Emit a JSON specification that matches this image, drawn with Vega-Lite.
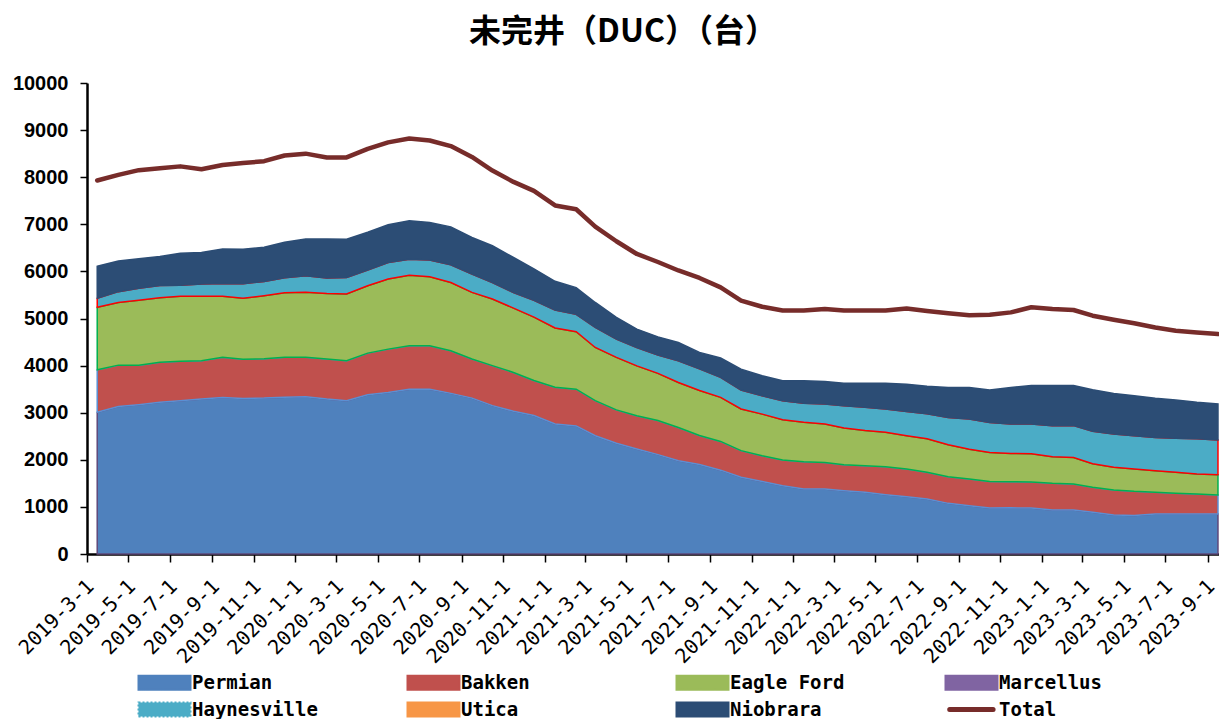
{
  "$schema": "https://vega.github.io/schema/vega-lite/v6.json",
  "width": 1132,
  "height": 471,
  "autosize": {"type": "none"},
  "padding": {"left": 87, "top": 83, "right": 0, "bottom": 165},
  "background": "white",
  "title": {"text": "未完井（DUC）（台）", "font": "Noto Sans CJK SC", "fontSize": 32, "fontWeight": "bold", "color": "#000000", "anchor": "middle", "dx": -30, "offset": 24},
  "config": {"view": {"stroke": null}, "axis": {"grid": false}},
  "data": {"values": [
    {"date": "2019-03-01", "Permian": 3010, "Bakken": 900, "Eagle Ford": 1330, "Haynesville": 190, "Niobrara": 680, "Total": 7930},
    {"date": "2019-04-01", "Permian": 3130, "Bakken": 880, "Eagle Ford": 1330, "Haynesville": 230, "Niobrara": 650, "Total": 8050},
    {"date": "2019-05-01", "Permian": 3170, "Bakken": 840, "Eagle Ford": 1380, "Haynesville": 250, "Niobrara": 630, "Total": 8150},
    {"date": "2019-06-01", "Permian": 3220, "Bakken": 850, "Eagle Ford": 1370, "Haynesville": 260, "Niobrara": 615, "Total": 8190},
    {"date": "2019-07-01", "Permian": 3255, "Bakken": 835, "Eagle Ford": 1380, "Haynesville": 235, "Niobrara": 680, "Total": 8230},
    {"date": "2019-08-01", "Permian": 3290, "Bakken": 815, "Eagle Ford": 1365, "Haynesville": 265, "Niobrara": 665, "Total": 8170},
    {"date": "2019-09-01", "Permian": 3325, "Bakken": 850, "Eagle Ford": 1295, "Haynesville": 275, "Niobrara": 730, "Total": 8260},
    {"date": "2019-10-01", "Permian": 3300, "Bakken": 835, "Eagle Ford": 1295, "Haynesville": 310, "Niobrara": 730, "Total": 8300},
    {"date": "2019-11-01", "Permian": 3310, "Bakken": 835, "Eagle Ford": 1340, "Haynesville": 300, "Niobrara": 730, "Total": 8340},
    {"date": "2019-12-01", "Permian": 3330, "Bakken": 845, "Eagle Ford": 1370, "Haynesville": 320, "Niobrara": 755, "Total": 8460},
    {"date": "2020-01-01", "Permian": 3340, "Bakken": 835, "Eagle Ford": 1380, "Haynesville": 355, "Niobrara": 780, "Total": 8500},
    {"date": "2020-02-01", "Permian": 3290, "Bakken": 850, "Eagle Ford": 1390, "Haynesville": 330, "Niobrara": 830, "Total": 8420},
    {"date": "2020-03-01", "Permian": 3255, "Bakken": 850, "Eagle Ford": 1415, "Haynesville": 350, "Niobrara": 815, "Total": 8420},
    {"date": "2020-04-01", "Permian": 3380, "Bakken": 885, "Eagle Ford": 1430, "Haynesville": 335, "Niobrara": 800, "Total": 8600},
    {"date": "2020-05-01", "Permian": 3430, "Bakken": 920, "Eagle Ford": 1490, "Haynesville": 350, "Niobrara": 800, "Total": 8740},
    {"date": "2020-06-01", "Permian": 3500, "Bakken": 920, "Eagle Ford": 1500, "Haynesville": 340, "Niobrara": 815, "Total": 8820},
    {"date": "2020-07-01", "Permian": 3500, "Bakken": 920, "Eagle Ford": 1465, "Haynesville": 355, "Niobrara": 800, "Total": 8780},
    {"date": "2020-08-01", "Permian": 3410, "Bakken": 905, "Eagle Ford": 1450, "Haynesville": 375, "Niobrara": 805, "Total": 8660},
    {"date": "2020-09-01", "Permian": 3310, "Bakken": 830, "Eagle Ford": 1415, "Haynesville": 390, "Niobrara": 775, "Total": 8430},
    {"date": "2020-10-01", "Permian": 3150, "Bakken": 850, "Eagle Ford": 1415, "Haynesville": 350, "Niobrara": 780, "Total": 8140},
    {"date": "2020-11-01", "Permian": 3030, "Bakken": 825, "Eagle Ford": 1365, "Haynesville": 330, "Niobrara": 745, "Total": 7900},
    {"date": "2020-12-01", "Permian": 2940, "Bakken": 745, "Eagle Ford": 1345, "Haynesville": 355, "Niobrara": 670, "Total": 7710},
    {"date": "2021-01-01", "Permian": 2760, "Bakken": 780, "Eagle Ford": 1260, "Haynesville": 380, "Niobrara": 610, "Total": 7400},
    {"date": "2021-02-01", "Permian": 2720, "Bakken": 780, "Eagle Ford": 1220, "Haynesville": 370, "Niobrara": 565, "Total": 7320},
    {"date": "2021-03-01", "Permian": 2510, "Bakken": 745, "Eagle Ford": 1130, "Haynesville": 425, "Niobrara": 530, "Total": 6950},
    {"date": "2021-04-01", "Permian": 2350, "Bakken": 710, "Eagle Ford": 1115, "Haynesville": 390, "Niobrara": 460, "Total": 6640},
    {"date": "2021-05-01", "Permian": 2230, "Bakken": 705, "Eagle Ford": 1060, "Haynesville": 390, "Niobrara": 390, "Total": 6370},
    {"date": "2021-06-01", "Permian": 2110, "Bakken": 725, "Eagle Ford": 1000, "Haynesville": 390, "Niobrara": 385, "Total": 6200},
    {"date": "2021-07-01", "Permian": 1980, "Bakken": 705, "Eagle Ford": 955, "Haynesville": 460, "Niobrara": 390, "Total": 6020},
    {"date": "2021-08-01", "Permian": 1900, "Bakken": 615, "Eagle Ford": 955, "Haynesville": 460, "Niobrara": 350, "Total": 5860},
    {"date": "2021-09-01", "Permian": 1780, "Bakken": 610, "Eagle Ford": 935, "Haynesville": 425, "Niobrara": 410, "Total": 5660},
    {"date": "2021-10-01", "Permian": 1630, "Bakken": 565, "Eagle Ford": 885, "Haynesville": 400, "Niobrara": 445, "Total": 5380},
    {"date": "2021-11-01", "Permian": 1540, "Bakken": 545, "Eagle Ford": 885, "Haynesville": 390, "Niobrara": 425, "Total": 5250},
    {"date": "2021-12-01", "Permian": 1450, "Bakken": 545, "Eagle Ford": 855, "Haynesville": 405, "Niobrara": 425, "Total": 5170},
    {"date": "2022-01-01", "Permian": 1380, "Bakken": 580, "Eagle Ford": 835, "Haynesville": 405, "Niobrara": 480, "Total": 5170},
    {"date": "2022-02-01", "Permian": 1380, "Bakken": 565, "Eagle Ford": 815, "Haynesville": 425, "Niobrara": 475, "Total": 5200},
    {"date": "2022-03-01", "Permian": 1345, "Bakken": 550, "Eagle Ford": 780, "Haynesville": 475, "Niobrara": 475, "Total": 5170},
    {"date": "2022-04-01", "Permian": 1310, "Bakken": 565, "Eagle Ford": 745, "Haynesville": 495, "Niobrara": 510, "Total": 5170},
    {"date": "2022-05-01", "Permian": 1260, "Bakken": 595, "Eagle Ford": 730, "Haynesville": 495, "Niobrara": 545, "Total": 5170},
    {"date": "2022-06-01", "Permian": 1215, "Bakken": 590, "Eagle Ford": 705, "Haynesville": 515, "Niobrara": 580, "Total": 5210},
    {"date": "2022-07-01", "Permian": 1170, "Bakken": 565, "Eagle Ford": 710, "Haynesville": 530, "Niobrara": 585, "Total": 5160},
    {"date": "2022-08-01", "Permian": 1075, "Bakken": 565, "Eagle Ford": 680, "Haynesville": 580, "Niobrara": 635, "Total": 5110},
    {"date": "2022-09-01", "Permian": 1025, "Bakken": 565, "Eagle Ford": 635, "Haynesville": 640, "Niobrara": 670, "Total": 5070},
    {"date": "2022-10-01", "Permian": 975, "Bakken": 565, "Eagle Ford": 615, "Haynesville": 635, "Niobrara": 690, "Total": 5080},
    {"date": "2022-11-01", "Permian": 980, "Bakken": 555, "Eagle Ford": 600, "Haynesville": 625, "Niobrara": 775, "Total": 5130},
    {"date": "2022-12-01", "Permian": 975, "Bakken": 555, "Eagle Ford": 600, "Haynesville": 630, "Niobrara": 815, "Total": 5240},
    {"date": "2023-01-01", "Permian": 935, "Bakken": 565, "Eagle Ford": 565, "Haynesville": 660, "Niobrara": 850, "Total": 5200},
    {"date": "2023-02-01", "Permian": 935, "Bakken": 550, "Eagle Ford": 565, "Haynesville": 675, "Niobrara": 850, "Total": 5180},
    {"date": "2023-03-01", "Permian": 885, "Bakken": 530, "Eagle Ford": 500, "Haynesville": 690, "Niobrara": 880, "Total": 5060},
    {"date": "2023-04-01", "Permian": 830, "Bakken": 530, "Eagle Ford": 480, "Haynesville": 710, "Niobrara": 860, "Total": 4975},
    {"date": "2023-05-01", "Permian": 815, "Bakken": 515, "Eagle Ford": 475, "Haynesville": 705, "Niobrara": 850, "Total": 4900},
    {"date": "2023-06-01", "Permian": 850, "Bakken": 460, "Eagle Ford": 460, "Haynesville": 705, "Niobrara": 830, "Total": 4810},
    {"date": "2023-07-01", "Permian": 850, "Bakken": 440, "Eagle Ford": 445, "Haynesville": 720, "Niobrara": 815, "Total": 4740},
    {"date": "2023-08-01", "Permian": 850, "Bakken": 425, "Eagle Ford": 425, "Haynesville": 745, "Niobrara": 775, "Total": 4705},
    {"date": "2023-09-01", "Permian": 850, "Bakken": 405, "Eagle Ford": 430, "Haynesville": 735, "Niobrara": 765, "Total": 4670}
  ]},
  "encoding": {
    "x": {
      "field": "date",
      "type": "temporal",
      "scale": {"type": "utc", "domain": [{"year": 2019, "month": 2, "date": 14, "utc": true}, {"year": 2023, "month": 9, "date": 2, "hours": 12, "utc": true}]},
      "axis": {
        "title": null,
        "tickCount": {"interval": "month", "step": 2},
        "labelExpr": "utcFormat(datum.value, '%Y-%-m-%-d')",
        "labelAngle": -45,
        "labelAlign": "right",
        "labelBaseline": "middle",
        "labelFont": "DejaVu Sans Mono",
        "labelFontSize": 20,
        "labelColor": "#000000",
        "labelOverlap": false,
        "labelFlush": false,
        "labelPadding": 21,
        "tickColor": "#000000",
        "tickSize": 8,
        "tickWidth": 1.5,
        "tickOffset": -10.4,
        "labelOffset": 3.5,
        "domainColor": "#000000",
        "domainWidth": 2.5
      }
    }
  },
  "layer": [
    {
      "transform": [
        {"fold": ["Permian", "Bakken", "Eagle Ford", "Haynesville", "Niobrara"], "as": ["series", "value"]},
        {"calculate": "indexof(['Permian','Bakken','Eagle Ford','Haynesville','Niobrara'], datum.series)", "as": "ord"}
      ],
      "mark": {"type": "area", "strokeWidth": 1.5, "interpolate": "linear"},
      "encoding": {
        "y": {
          "field": "value",
          "type": "quantitative",
          "stack": "zero",
          "scale": {"domain": [0, 10000], "nice": false},
          "axis": {
            "title": null,
            "format": "d",
            "values": [0, 1000, 2000, 3000, 4000, 5000, 6000, 7000, 8000, 9000, 10000],
            "labelFont": "Liberation Sans",
            "labelFontWeight": "bold",
            "labelFontSize": 20,
            "labelColor": "#000000",
            "labelPadding": 12,
            "tickColor": "#000000",
            "tickSize": 7,
            "tickWidth": 1.5,
            "domainColor": "#000000",
            "domainWidth": 2.5
          }
        },
        "order": {"field": "ord", "type": "quantitative"},
        "color": {
          "field": "series",
          "type": "nominal",
          "scale": {
            "domain": ["Permian", "Bakken", "Eagle Ford", "Marcellus", "Haynesville", "Utica", "Niobrara", "Total"],
            "range": ["#4F81BD", "#C0504D", "#9BBB59", "#8064A2", "#4BACC6", "#F79646", "#2C4D75", "#772C2A"]
          },
          "legend": {
            "title": null,
            "orient": "none",
            "legendX": 49,
            "legendY": 590,
            "columns": 4,
            "direction": "horizontal",
            "gridAlign": "all",
            "columnPadding": 83,
            "rowPadding": 4,
            "padding": 0,
            "symbolSize": 196,
            "symbolType": "M-1,-1H6.43V1H-1Z",
            "labelOffset": 37,
            "labelFont": "DejaVu Sans Mono",
            "labelFontSize": 19,
            "labelFontWeight": "bold",
            "labelColor": "#000000",
            "labelLimit": 300,
            "encode": {
              "symbols": {
                "update": {
                  "shape": {"signal": "datum.value === 'Total' ? 'M-0.4,0H5.8' : 'M-1,-1H6.43V1H-1Z'"},
                  "fill": {"signal": "scale('color', datum.value)"},
                  "fillOpacity": {"value": 1},
                  "opacity": {"value": 1},
                  "stroke": {"signal": "datum.value === 'Permian' ? '#5F497A' : datum.value === 'Bakken' ? '#5B8FD3' : datum.value === 'Eagle Ford' ? '#00B050' : datum.value === 'Marcellus' ? '#E46C0A' : datum.value === 'Haynesville' ? '#FF0000' : datum.value === 'Total' ? '#772C2A' : scale('color', datum.value)"},
                  "strokeOpacity": {"value": 1},
                  "strokeWidth": {"signal": "datum.value === 'Total' ? 5 : 2"},
                  "strokeDash": {"signal": "datum.value === 'Haynesville' ? [2, 2] : [1, 0]"},
                  "strokeCap": {"signal": "datum.value === 'Total' ? 'round' : 'butt'"}
                }
              }
            }
          }
        },
        "stroke": {
          "field": "series",
          "type": "nominal",
          "scale": {
            "domain": ["Permian", "Bakken", "Eagle Ford", "Haynesville", "Niobrara"],
            "range": ["#5F497A", "#5B8FD3", "#00B050", "#FF0000", "#2C4D75"]
          },
          "legend": null
        },
        "strokeDash": {
          "condition": {"test": "datum.series === 'Haynesville'", "value": [2, 2]},
          "value": [1, 0]
        }
      }
    },
    {
      "mark": {"type": "line", "strokeWidth": 4.5, "strokeCap": "round", "strokeJoin": "round"},
      "encoding": {
        "y": {
          "field": "Total",
          "type": "quantitative",
          "axis": {
            "title": null,
            "format": "d",
            "values": [0, 1000, 2000, 3000, 4000, 5000, 6000, 7000, 8000, 9000, 10000],
            "labelFont": "Liberation Sans",
            "labelFontWeight": "bold",
            "labelFontSize": 20,
            "labelColor": "#000000",
            "labelPadding": 12,
            "tickColor": "#000000",
            "tickSize": 7,
            "tickWidth": 1.5,
            "domainColor": "#000000",
            "domainWidth": 2.5
          }
        },
        "color": {"datum": "Total"}
      }
    }
  ]
}
